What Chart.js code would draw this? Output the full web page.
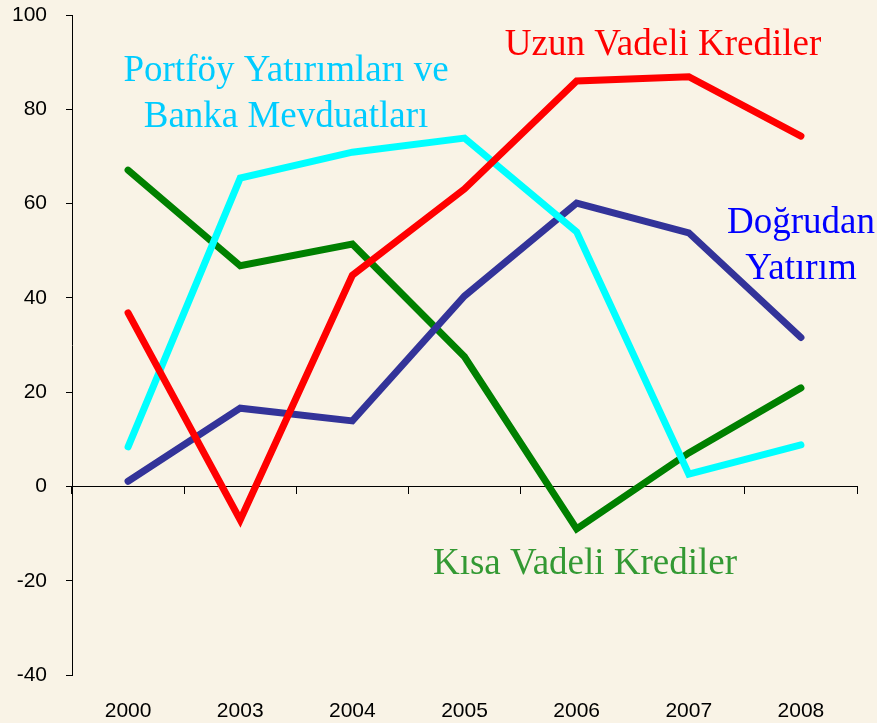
<!DOCTYPE html>
<html>
<head>
<meta charset="utf-8">
<script src="https://cdn.jsdelivr.net/npm/chart.js@4.4.0/dist/chart.umd.min.js"></script>
<style>
  html, body { margin: 0; padding: 0; background: #F9F3E6; }
  #wrap { width: 877px; height: 723px; }
</style>
</head>
<body>
<div id="wrap"><canvas id="grafik"></canvas></div>
<script>
// Yillar ve seriler
const yillar = ['2000', '2003', '2004', '2005', '2006', '2007', '2008'];
const uzunVadeli = [36.8, -7.1, 44.8, 63.1, 86.0, 86.9, 74.3];
const portfoy = [8.4, 65.4, 70.9, 73.9, 54.0, 2.6, 8.8];
const dogrudan = [1.1, 16.6, 13.9, 40.4, 60.1, 53.8, 31.6];
const kisaVadeli = [67.1, 46.8, 51.4, 27.5, -9.0, 7.1, 20.9];

// Grafik uzerindeki etiketler
const etiketler = [
  { satirlar: ['Uzun Vadeli Krediler'], renk: '#FF0000', x: 663, y: 45 },
  { satirlar: ['Portföy Yatırımları ve', 'Banka Mevduatları'], renk: '#00CCFF', x: 286, y: 71 },
  { satirlar: ['Doğrudan', 'Yatırım'], renk: '#0000FF', x: 801, y: 223 },
  { satirlar: ['Kısa Vadeli Krediler'], renk: '#339933', x: 585, y: 564 }
];

const arkaPlan = {
  id: 'arkaPlan',
  beforeDraw(chart) {
    const c = chart.ctx;
    c.save();
    c.fillStyle = '#F9F3E6';
    c.fillRect(0, 0, chart.width, chart.height);
    c.restore();
  }
};

const yazilar = {
  id: 'yazilar',
  afterDraw(chart) {
    const c = chart.ctx;
    c.save();
    c.font = '37px "Liberation Serif", "Times New Roman", serif';
    c.textAlign = 'center';
    c.textBaseline = 'middle';
    etiketler.forEach(e => {
      c.fillStyle = e.renk;
      e.satirlar.forEach((s, i) => c.fillText(s, e.x, e.y + i * 46));
    });
    c.restore();
  }
};

const seri = (veri, renk, sira) => ({
  data: veri,
  borderColor: renk,
  backgroundColor: renk,
  borderWidth: 7,
  pointRadius: 0,
  tension: 0,
  fill: false,
  borderCapStyle: 'round',
  borderJoinStyle: 'miter',
  order: sira
});

new Chart(document.getElementById('grafik'), {
  type: 'line',
  data: {
    labels: yillar,
    datasets: [
      seri(kisaVadeli, '#008000', 4),
      seri(dogrudan, '#333399', 3),
      seri(portfoy, '#00FFFF', 2),
      seri(uzunVadeli, '#FF0000', 1)
    ]
  },
  plugins: [arkaPlan, yazilar],
  options: {
    responsive: true,
    maintainAspectRatio: false,
    animation: false,
    layout: { padding: { left: 0, right: 20, top: 0, bottom: 0 } },
    plugins: { legend: { display: false }, tooltip: { enabled: false } },
    scales: {
      x: {
        type: 'category',
        offset: true,
        grid: { display: false, drawTicks: false },
        border: { display: false },
        ticks: { color: '#000', padding: 24, font: { family: '"Liberation Sans", Arial', size: 21 } },
        afterFit: s => { s.height = 48; }
      },
      x2: {
        type: 'category',
        labels: yillar,
        position: { y: 0 },
        offset: true,
        grid: { offset: true, drawOnChartArea: false, tickLength: 7, color: '#000', tickColor: '#000' },
        border: { display: true, color: '#000', width: 1 },
        ticks: { display: false }
      },
      y: {
        min: -40,
        max: 100,
        ticks: { stepSize: 20, color: '#000', padding: 19, font: { family: '"Liberation Sans", Arial', size: 21 } },
        grid: { drawOnChartArea: false, tickLength: 6, color: '#000', tickColor: '#000' },
        border: { display: true, color: '#000', width: 1 },
        afterFit: s => { s.width = 72; s.paddingTop = 15; s.paddingBottom = 10; }
      }
    }
  }
});
</script>
</body>
</html>
